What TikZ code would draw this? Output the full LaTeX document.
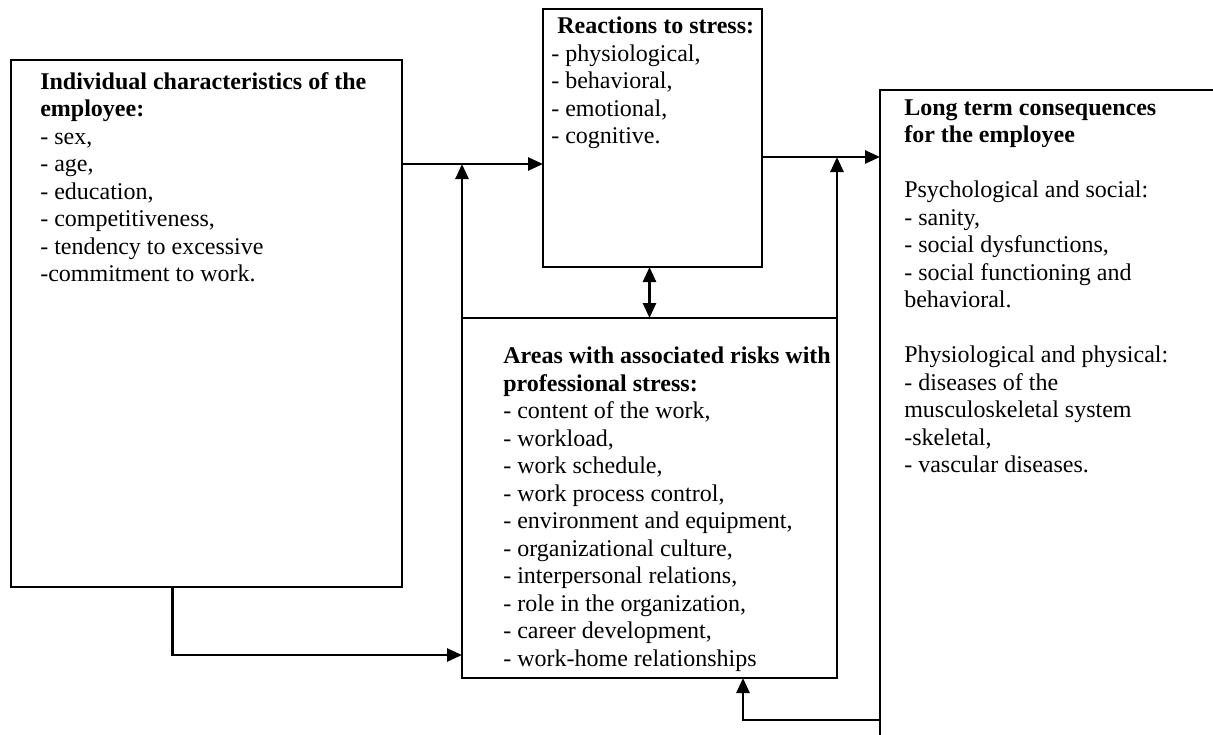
\documentclass[tikz,border=0pt]{standalone}
\usepackage{fontspec}
\setmainfont{Liberation Serif}
\usetikzlibrary{positioning,arrows.meta}

\begin{document}
\begin{tikzpicture}[-,>={Triangle[length=15pt,width=13pt]},line width=2.6pt,
    box node/.style={draw,rectangle,inner sep=0pt,outer sep=0pt,anchor=north west},
    text node/.style={inner sep=0pt,anchor=north west,align=left,font=\fontsize{24}{27.5}\selectfont}]
                    \useasboundingbox (0,0) rectangle (1213pt,-734pt);
                    \clip (0,0) rectangle (1213pt,-734pt);

                    \node[box node,minimum width=391pt,minimum height=527pt] (1) at (11pt,-60pt) {};
                    \node[box node,minimum width=219pt,minimum height=258pt] (2) [above right=51pt and 141pt of 1.north east,anchor=north west] {};
                    \node[box node,minimum width=375pt,minimum height=360pt] (3) [below left=51pt and 81pt of 2.south west,anchor=north west] {};
                    \node[box node,minimum width=400pt,minimum height=700pt] (4) [below right=81pt and 118pt of 2.north east,anchor=north west] {};

                    \node[text node] (5) [below right=11pt and 28pt of 1.north west,anchor=north west]
                        {\textbf{Individual characteristics of the}\\\textbf{employee:}\\- sex,\\- age,\\- education,\\- competitiveness,\\- tendency to excessive\\-commitment to work.};
                    \node[text node] (6) [below right=7pt and 7pt of 2.north west,anchor=north west]
                        {\hspace*{6pt}\textbf{Reactions to stress:}\\- physiological,\\- behavioral,\\- emotional,\\- cognitive.};
                    \node[text node] (7) [below right=28pt and 40pt of 3.north west,anchor=north west]
                        {\textbf{Areas with associated risks with}\\\textbf{professional stress:}\\- content of the work,\\- workload,\\- work schedule,\\- work process control,\\- environment and equipment,\\- organizational culture,\\- interpersonal relations,\\- role in the organization,\\- career development,\\- work-home relationships};
                    \node[text node] (8) [below right=8pt and 23pt of 4.north west,anchor=north west]
                        {\textbf{Long term consequences}\\\textbf{for the employee}\\[27.5pt]Psychological and social:\\- sanity,\\- social dysfunctions,\\- social functioning and\\behavioral.\\[27.5pt]Physiological and physical:\\- diseases of the\\musculoskeletal system\\-skeletal,\\- vascular diseases.};

                    \coordinate (r1) at ([yshift=-26pt]2.west);
                    \coordinate (r2) at ([yshift=-19pt]2.east);
                    \coordinate (r3) at ([xshift=93.5pt]3.south);
                    \coordinate (r4) at ([xshift=-34pt]1.south);
                    \coordinate (r5) at ([yshift=-157pt]3.west);
                    \coordinate (r6) at ([yshift=-42pt]r3);

                    \path[->]
                        (1.east |- r1) edge (r1)
                        (3.north west) edge (3.north west |- r1)
                        (r2) edge (4.west |- r2)
                        (3.north east) edge (3.north east |- r2)
                        (3.north) edge[<->] (3.north |- 2.south)
                        (r4) edge[to path={|- (\tikztotarget)}] (r5)
                        (4.west |- r6) edge[to path={-| (\tikztotarget)}] (r3)
                        ;
                \end{tikzpicture}
\end{document}
